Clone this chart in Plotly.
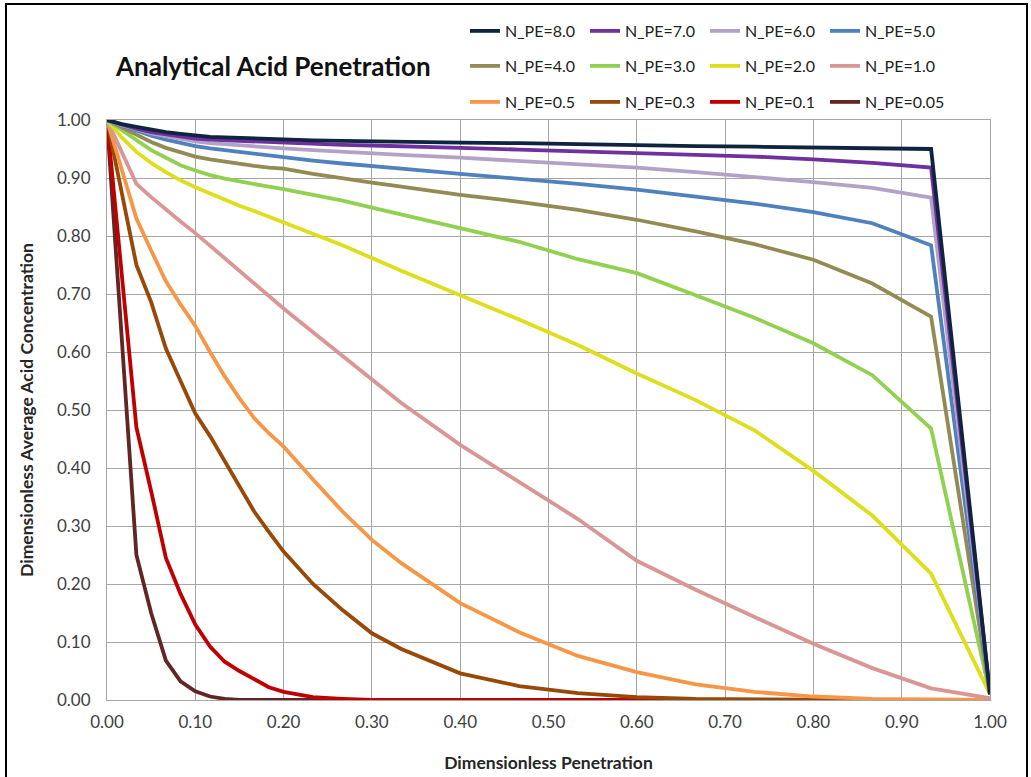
import plotly.graph_objects as go

X = [0, 0.0167, 0.0333, 0.05, 0.0667, 0.0833, 0.1, 0.1167, 0.1333, 0.15, 0.1667, 0.1833, 0.2,
     0.2333, 0.2667, 0.3, 0.3333, 0.4, 0.4667, 0.5333, 0.6, 0.6667, 0.7333, 0.8, 0.8667, 0.9333, 1.0]

N_8_0 = [1.0, .993, .988, .983, .979, .976, .973, .971, .970, .969, .968, .967, .966, .965, .964, .963, .962, .961, .960, .958, .957, .955, .954, .953, .952, .950, .01]
N_7_0 = [1.0, .992, .985, .979, .975, .971, .968, .966, .965, .963, .962, .961, .960, .958, .957, .956, .955, .952, .949, .946, .943, .940, .937, .932, .926, .918, .01]
N_6_0 = [1.0, .991, .984, .977, .972, .967, .963, .960, .958, .956, .954, .952, .951, .948, .945, .943, .940, .935, .929, .924, .918, .910, .902, .893, .883, .866, .01]
N_5_0 = [1.0, .990, .982, .973, .966, .960, .955, .951, .948, .944, .941, .938, .935, .930, .925, .921, .916, .907, .899, .890, .880, .868, .856, .841, .822, .784, .01]
N_4_0 = [1.0, .987, .975, .962, .952, .944, .937, .932, .928, .924, .921, .918, .916, .907, .899, .892, .885, .871, .859, .845, .828, .808, .786, .759, .718, .661, .01]
N_3_0 = [1.0, .982, .965, .948, .935, .922, .913, .905, .899, .894, .889, .885, .881, .871, .861, .849, .837, .813, .790, .760, .736, .698, .659, .615, .560, .468, .01]
N_2_0 = [1.0, .970, .945, .926, .910, .896, .884, .873, .863, .852, .843, .833, .823, .803, .784, .762, .740, .698, .656, .612, .563, .517, .465, .395, .318, .218, .01]
N_1_0 = [1.0, .945, .890, .867, .845, .825, .805, .783, .762, .740, .719, .697, .675, .634, .593, .552, .512, .440, .376, .312, .240, .190, .143, .097, .055, .020, .003]
N_0_5 = [1.0, .915, .830, .775, .722, .682, .645, .600, .558, .520, .486, .460, .437, .380, .325, .276, .236, .167, .117, .076, .048, .027, .014, .006, .002, .001, 0.0]
N_0_3 = [1.0, .875, .750, .686, .606, .550, .494, .455, .412, .367, .325, .290, .256, .200, .155, .115, .088, .046, .024, .012, .005, .002, .001, 0.0, 0.0, 0.0, 0.0]
N_0_1 = [1.0, .735, .470, .360, .245, .183, .130, .092, .066, .050, .036, .022, .014, .005, .002, 0.0, 0.0, 0.0, 0.0, 0.0, 0.0, 0.0, 0.0, 0.0, 0.0, 0.0, 0.0]
N_0_05 = [1.0, .625, .250, .150, .068, .032, .015, .006, .002, 0.0, 0.0, 0.0, 0.0, 0.0, 0.0, 0.0, 0.0, 0.0, 0.0, 0.0, 0.0, 0.0, 0.0, 0.0, 0.0, 0.0, 0.0]

NAMES = ["N_PE=8.0", "N_PE=7.0", "N_PE=6.0", "N_PE=5.0",
         "N_PE=4.0", "N_PE=3.0", "N_PE=2.0", "N_PE=1.0",
         "N_PE=0.5", "N_PE=0.3", "N_PE=0.1", "N_PE=0.05"]
SERIES = [N_8_0, N_7_0, N_6_0, N_5_0, N_4_0, N_3_0, N_2_0, N_1_0, N_0_5, N_0_3, N_0_1, N_0_05]
COLORS = ["#0f243e", "#7030a0", "#b3a2c7", "#4f81bd",
          "#948a54", "#92d050", "#dede1c", "#d99694",
          "#f79646", "#984807", "#c00000", "#632523"]

X_TICKS = [0, 0.1, 0.2, 0.3, 0.4, 0.5, 0.6, 0.7, 0.8, 0.9, 1.0]
Y_TICKS = [0, 0.1, 0.2, 0.3, 0.4, 0.5, 0.6, 0.7, 0.8, 0.9, 1.0]

FONT = "Lato, 'Open Sans', sans-serif"

fig = go.Figure()
legend_ids = ["legend", "legend2", "legend3"]
traces = []
for i, (name, ys, col) in enumerate(zip(NAMES, SERIES, COLORS)):
    traces.append(go.Scatter(x=X, y=ys, mode="lines", name=name,
                             line=dict(color=col, width=3.8),
                             legend=legend_ids[i // 4], legendrank=i + 1))
for t in reversed(traces):
    fig.add_trace(t)

W, H = 1031, 777
L, R, T, B = 107, 990, 120, 700


def px(x):
    return (x - L) / (R - L)


def py(y):
    return (B - y) / (B - T)


legend_common = dict(orientation="h", xanchor="left", yanchor="middle",
                     font=dict(family=FONT, size=16, color="#222222"),
                     bgcolor="rgba(0,0,0,0)", entrywidth=75, entrywidthmode="pixels",
                     itemwidth=30, traceorder="normal")

fig.update_layout(
    width=W, height=H,
    margin=dict(l=L, r=W - R, t=T, b=H - B),
    paper_bgcolor="white", plot_bgcolor="white",
    font=dict(family=FONT, size=17, color="#404040"),
    showlegend=True,
    legend=dict(x=px(465), y=py(31), **legend_common),
    legend2=dict(x=px(465), y=py(66), **legend_common),
    legend3=dict(x=px(465), y=py(102), **legend_common),
    xaxis=dict(range=[0, 1], tickvals=X_TICKS, tickformat=".2f", showgrid=True,
               gridcolor="#a6a6a6", gridwidth=1, zeroline=False, showline=True,
               linecolor="#a6a6a6", linewidth=1, mirror=True, ticks="", ticklen=0,
               ticklabelstandoff=7, automargin=False,
               tickfont=dict(family=FONT, size=17, color="#404040"),
               title=dict(text="<b>Dimensionless Penetration</b>", standoff=25,
                          font=dict(family=FONT, size=17.5, color="#262626"))),
    yaxis=dict(range=[0, 1], tickvals=Y_TICKS, tickformat=".2f", showgrid=True,
               gridcolor="#a6a6a6", gridwidth=1, zeroline=False, showline=True,
               linecolor="#a6a6a6", linewidth=1, mirror=True, ticks="",
               ticklabelstandoff=12, automargin=False,
               tickfont=dict(family=FONT, size=17, color="#404040"),
               title=dict(text="<b>Dimensionless Average Acid Concentration</b>", standoff=18,
                          font=dict(family=FONT, size=17.5, color="#262626"))),
    annotations=[dict(text="<b>Analytical Acid Penetration</b>", xref="paper", yref="paper",
                      x=px(113), y=py(66), xanchor="left", yanchor="middle", showarrow=False,
                      font=dict(family=FONT, size=26, color="#111111"))],
    shapes=[dict(type="rect", xref="paper", yref="paper",
                 x0=px(6), x1=px(1027), y0=py(790), y1=py(4),
                 line=dict(color="black", width=2), fillcolor="rgba(0,0,0,0)", layer="below")],
)

fig.write_html("out.html")
